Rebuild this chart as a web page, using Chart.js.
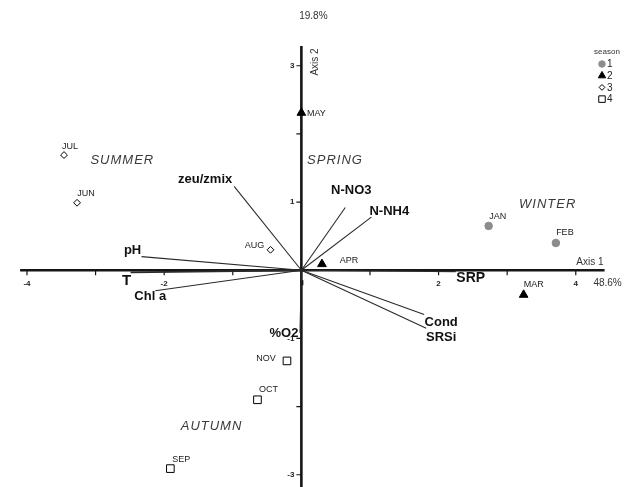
<!DOCTYPE html>
<html>
<head>
<meta charset="utf-8">
<script src="https://cdn.jsdelivr.net/npm/chart.js@4/dist/chart.umd.min.js"></script>
<style>
  html, body { margin: 0; padding: 0; background: #fff; }
  canvas { display: block; }
</style>
</head>
<body>
<canvas id="biplot" width="640" height="487"></canvas>
<script>
// Monthly samples: scores on ordination axes 1 and 2, and their season code
const months      = ['JAN', 'FEB', 'MAR', 'APR', 'MAY', 'JUN', 'JUL', 'AUG', 'SEP', 'OCT', 'NOV'];
const monthAxis1  = [2.73, 3.71, 3.24, 0.30, 0.00, -3.27, -3.46, -0.45, -1.91, -0.64, -0.21];
const monthAxis2  = [0.65, 0.40, -0.36, 0.09, 2.31, 0.99, 1.69, 0.30, -2.91, -1.90, -1.33];
const monthSeason = [1, 1, 2, 2, 2, 3, 3, 3, 4, 4, 4];

// Environmental variables: coordinates of each vector tip
const variables = ['zeu/zmix', 'pH', 'T', 'Chl a', 'N-NO3', 'N-NH4', 'SRP', 'Cond', 'SRSi', '%O2'];
const varAxis1  = [-0.98, -2.33, -2.49, -2.13, 0.64, 1.02, 2.25, 1.79, 1.82, -0.02];
const varAxis2  = [1.23, 0.20, -0.03, -0.30, 0.92, 0.78, -0.02, -0.65, -0.85, -0.92];

// Season codes and season names
const seasons     = [1, 2, 3, 4];
const seasonNames = ['SUMMER', 'SPRING', 'WINTER', 'AUTUMN'];

// Axis ticks and labelled ticks
const axis1Ticks  = [-4, -3, -2, -1, 1, 2, 3, 4];
const axis2Ticks  = [-3, -2, -1, 1, 2, 3];
const axis1Labels = [-4, -2, 2, 4];
const axis2Labels = [3, 1, -1, -3];
const axis1Title = 'Axis 1', axis1Pct = '48.6%';
const axis2Title = 'Axis 2', axis2Pct = '19.8%';

// ---- styling & layout ----
const FONT = "'Liberation Sans', Arial, sans-serif";
const seasonStyle = {
  1: { pointStyle: 'circle',   radius: 3.8, bg: '#8c8c8c', border: '#8c8c8c' },
  2: { pointStyle: 'triangle', radius: 5,   bg: '#000000', border: '#000000' },
  3: { pointStyle: 'rectRot',  radius: 3.4, bg: '#ffffff', border: '#000000' },
  4: { pointStyle: 'rect',     radius: 5.4, bg: '#ffffff', border: '#000000' }
};
// pixel offsets of month-label centres from their markers
const monthLabelOffset = {
  JAN: [9, -9], FEB: [9, -10], MAR: [10, -10], APR: [27, -4], MAY: [15, 1],
  JUN: [9, -9], JUL: [6, -9], AUG: [-16, -4], SEP: [11, -9], OCT: [11, -10], NOV: [-21, -2]
};
// pixel offsets of variable-label centres from vector tips, and font sizes
const varLabelOffset = {
  'zeu/zmix': [-29, -7], 'pH': [-9, -6], 'T': [-4, 9], 'Chl a': [-5, 6],
  'N-NO3': [6, -17], 'N-NH4': [18, -6], 'SRP': [15, 7], 'Cond': [17, 8],
  'SRSi': [15, 9], '%O2': [-16, 0]
};
const varLabelSize = { 'T': 15, 'SRP': 14 };
// season name positions in axis units
const seasonLabelPos = {
  SUMMER: [-2.61, 1.61], SPRING: [0.49, 1.61], WINTER: [3.59, 0.97], AUTUMN: [-1.31, -2.29]
};
// extent of the drawn axis lines, in axis units
const axisExtent = { x1: -4.1, x2: 4.42, y1: -3.2, y2: 3.29 };

// ---- datasets ----
const pointSets = seasons.map(s => {
  const st = seasonStyle[s];
  const data = [];
  months.forEach((m, i) => {
    if (monthSeason[i] === s) data.push({ x: monthAxis1[i], y: monthAxis2[i], label: m });
  });
  return {
    label: String(s), data,
    pointStyle: st.pointStyle, pointRadius: st.radius,
    backgroundColor: st.bg, borderColor: st.border, borderWidth: 1,
    showLine: false
  };
});
const vectorSets = variables.map((v, i) => ({
  label: v,
  data: [{ x: 0, y: 0 }, { x: varAxis1[i], y: varAxis2[i] }],
  showLine: true, pointRadius: 0, borderColor: '#2a2a2a',
  borderWidth: v === 'T' ? 1.8 : 1.1, fill: false
}));

// ---- axes through the origin, ticks, titles ----
const axesPlugin = {
  id: 'centredAxes',
  beforeDatasetsDraw(chart) {
    const { ctx, scales: { x, y } } = chart;
    const ox = x.getPixelForValue(0), oy = y.getPixelForValue(0);
    ctx.save();
    ctx.strokeStyle = '#151515';
    ctx.lineWidth = 2.6;
    ctx.beginPath();
    ctx.moveTo(x.getPixelForValue(axisExtent.x1), oy);
    ctx.lineTo(x.getPixelForValue(axisExtent.x2), oy);
    ctx.moveTo(ox, y.getPixelForValue(axisExtent.y2));
    ctx.lineTo(ox, y.getPixelForValue(axisExtent.y1));
    ctx.stroke();

    ctx.lineWidth = 1.2;
    ctx.beginPath();
    axis1Ticks.forEach(t => { const px = x.getPixelForValue(t); ctx.moveTo(px, oy); ctx.lineTo(px, oy + 5); });
    axis2Ticks.forEach(t => { const py = y.getPixelForValue(t); ctx.moveTo(ox, py); ctx.lineTo(ox - 5, py); });
    ctx.stroke();
    ctx.fillStyle = '#151515';
    ctx.fillRect(ox - 1, oy + 10, 3, 5);

    ctx.fillStyle = '#222';
    ctx.font = `bold 8px ${FONT}`;
    ctx.textAlign = 'center';
    ctx.textBaseline = 'middle';
    axis1Labels.forEach(t => ctx.fillText(String(t), x.getPixelForValue(t), oy + 14));
    ctx.textAlign = 'right';
    axis2Labels.forEach(t => ctx.fillText(String(t), ox - 7, y.getPixelForValue(t)));

    ctx.font = `10px ${FONT}`;
    ctx.fillStyle = '#333';
    ctx.textAlign = 'right';
    ctx.fillText(axis1Title, x.getPixelForValue(axisExtent.x2) - 1, oy - 8);
    ctx.textAlign = 'center';
    ctx.fillText(axis1Pct, x.getPixelForValue(axisExtent.x2) + 3, oy + 13);
    ctx.fillText(axis2Pct, ox + 12, 16);
    // vertical title reads bottom-to-top beside the top of axis 2
    ctx.save();
    ctx.translate(ox + 14, y.getPixelForValue(axisExtent.y2) + 16);
    ctx.rotate(-Math.PI / 2);
    ctx.fillText(axis2Title, 0, 0);
    ctx.restore();
    ctx.restore();
  },
  afterDatasetsDraw(chart) {
    const { ctx, scales: { x, y } } = chart;
    ctx.save();
    ctx.textAlign = 'center';
    ctx.textBaseline = 'middle';

    // month labels
    ctx.fillStyle = '#1a1a1a';
    ctx.font = `9px ${FONT}`;
    months.forEach((m, i) => {
      const [dx, dy] = monthLabelOffset[m];
      ctx.fillText(m, x.getPixelForValue(monthAxis1[i]) + dx, y.getPixelForValue(monthAxis2[i]) + dy);
    });

    // variable labels
    ctx.fillStyle = '#111';
    variables.forEach((v, i) => {
      const [dx, dy] = varLabelOffset[v];
      ctx.font = `bold ${varLabelSize[v] || 13}px ${FONT}`;
      ctx.fillText(v, x.getPixelForValue(varAxis1[i]) + dx, y.getPixelForValue(varAxis2[i]) + dy);
    });

    // season names
    ctx.fillStyle = '#3a3a3a';
    ctx.font = `italic 13px ${FONT}`;
    if ('letterSpacing' in ctx) ctx.letterSpacing = '1px';
    seasonNames.forEach(n => {
      const [sx, sy] = seasonLabelPos[n];
      ctx.fillText(n, x.getPixelForValue(sx), y.getPixelForValue(sy));
    });
    if ('letterSpacing' in ctx) ctx.letterSpacing = '0px';

    // season key
    ctx.fillStyle = '#333';
    ctx.font = `8px ${FONT}`;
    ctx.fillText('season', 607, 52);
    ctx.font = `10px ${FONT}`;
    ctx.textAlign = 'left';
    seasons.forEach((s, k) => {
      const st = seasonStyle[s];
      const ly = 64 + k * 11.7;
      ctx.fillStyle = st.bg;
      ctx.strokeStyle = st.border;
      ctx.lineWidth = 1;
      Chart.helpers.drawPoint(ctx, {
        pointStyle: st.pointStyle, rotation: 0,
        radius: st.radius * 0.85, borderWidth: 1
      }, 602, ly);
      ctx.fillStyle = '#222';
      ctx.fillText(String(s), 607, ly + 0.5);
    });
    ctx.restore();
  }
};

new Chart(document.getElementById('biplot'), {
  type: 'scatter',
  data: { datasets: [...pointSets, ...vectorSets] },
  options: {
    responsive: false,
    animation: false,
    devicePixelRatio: 1,
    layout: { padding: 0 },
    plugins: { legend: { display: false }, tooltip: { enabled: false } },
    scales: {
      x: { type: 'linear', min: -4.3, max: 4.843, display: false },
      y: { type: 'linear', min: -3.086, max: 3.871, display: false }
    }
  },
  plugins: [axesPlugin]
});
</script>
</body>
</html>
